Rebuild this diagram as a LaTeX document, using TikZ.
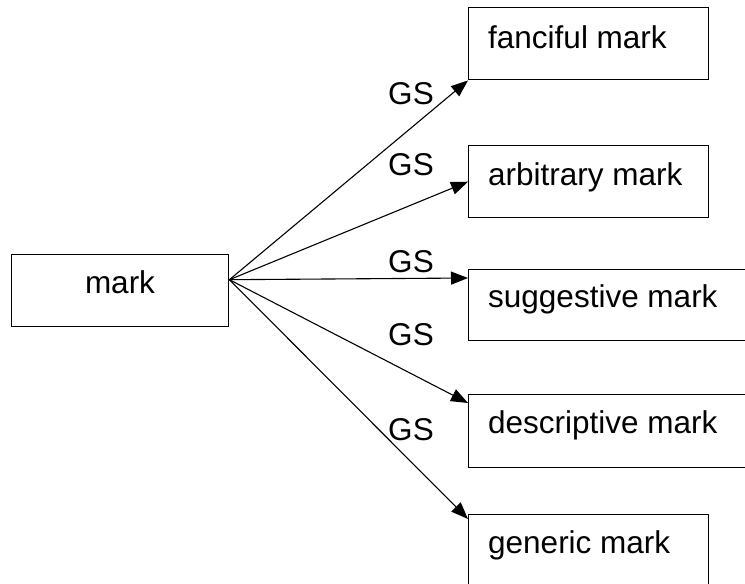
\documentclass[tikz,border=0pt]{standalone}
\usepackage{fontspec}
\setmainfont{Liberation Sans}
\usetikzlibrary{arrows.meta}
\begin{document}
\begin{tikzpicture}[x=1pt,y=-1pt,
 box/.style={draw,line width=1.4pt,rectangle,inner sep=0pt,anchor=north west},
 lbl/.style={font=\fontsize{31.5}{36}\selectfont,inner sep=0pt,anchor=base west},
 gs/.style={font=\fontsize{31.5}{36}\selectfont,inner sep=0pt},
 arr/.style={line width=1.1pt,-{Triangle[length=17pt,width=13pt]}}]
\useasboundingbox (0,0) rectangle (745,584);
\clip (0,0) rectangle (745,584);
% boxes
\node[box,minimum width=217pt,minimum height=72pt] (mark) at (11,254) {};
\node[box,minimum width=240pt,minimum height=72pt] (fanciful) at (468,7) {};
\node[box,minimum width=240pt,minimum height=72pt] (arbitrary) at (468,145) {};
\node[box,minimum width=300pt,minimum height=71pt] (suggestive) at (468,269) {};
\node[box,minimum width=300pt,minimum height=73pt] (descriptive) at (468,394) {};
\node[box,minimum width=240pt,minimum height=100pt] (generic) at (468,514) {};
% texts
\node[lbl,anchor=base] (tmark) at (120,293) {mark};
\node[lbl] (tfanciful) at (488,48) {fanciful mark};
\node[lbl] (tarbitrary) at (488,185) {arbitrary mark};
\node[lbl] (tsuggestive) at (488,307) {suggestive mark};
\node[lbl] (tdescriptive) at (488,433) {descriptive mark};
\node[lbl] (tgeneric) at (488,553) {generic mark};
% source point
\coordinate (src) at ([yshift=11pt]mark.east);
% arrows
\draw[arr] (src) -- (fanciful.south west);
\draw[arr] (src) -- (arbitrary.west);
\draw[arr] (src) -- ([yshift=-9pt]suggestive.north west);
\draw[arr] (src) -- ([yshift=-9pt]descriptive.north west);
\draw[arr] (src) -- ([yshift=-5pt]generic.north west);
% labels
\node[gs] (g1) at (411,94) {GS};
\node[gs] (g2) at (411,165) {GS};
\node[gs] (g3) at (411,262) {GS};
\node[gs] (g4) at (411,335) {GS};
\node[gs] (g5) at (411,430) {GS};
\end{tikzpicture}
\end{document}
